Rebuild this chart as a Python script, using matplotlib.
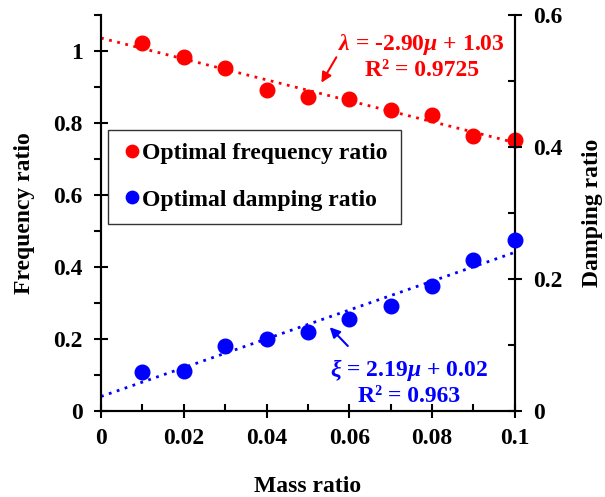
import numpy as np
import matplotlib
matplotlib.use("Agg")
import matplotlib.pyplot as plt
from matplotlib.ticker import MultipleLocator

#=================
#data
#=================
mass_ratio = [0.01, 0.02, 0.03, 0.04, 0.05, 0.06, 0.07, 0.08, 0.09, 0.10]
freq_ratio = [1.022, 0.982, 0.953, 0.892, 0.872, 0.867, 0.836, 0.822, 0.763, 0.752]
damp_ratio = [0.059, 0.060, 0.099, 0.109, 0.119, 0.139, 0.159, 0.189, 0.229, 0.259]

x_ticks = [0, 0.02, 0.04, 0.06, 0.08, 0.1]
x_ticklabels = ["0", "0.02", "0.04", "0.06", "0.08", "0.1"]
left_ticks = [0, 0.2, 0.4, 0.6, 0.8, 1.0]
left_ticklabels = ["0", "0.2", "0.4", "0.6", "0.8", "1"]
right_ticks = [0, 0.2, 0.4, 0.6]
right_ticklabels = ["0", "0.2", "0.4", "0.6"]

freq_label = "Optimal frequency ratio"
damp_label = "Optimal damping ratio"
freq_eq = "$\\lambda$ = -2.90$\\mu$ + 1.03\nR² = 0.9725"
damp_eq = "$\\xi$ = 2.19$\\mu$ + 0.02\nR² = 0.963"

#=================
#style
#=================
plt.rcParams["font.family"] = ["Liberation Serif", "DejaVu Serif"]
plt.rcParams["font.weight"] = "bold"
plt.rcParams["mathtext.fontset"] = "custom"
plt.rcParams["mathtext.rm"] = "Liberation Serif:bold"
plt.rcParams["mathtext.it"] = "Liberation Serif:italic:bold"
plt.rcParams["mathtext.bf"] = "Liberation Serif:bold"
fs = 17

fig = plt.figure(figsize=(6.05, 4.97), dpi=100)
ax = fig.add_axes([0.167, 0.173, 0.684, 0.797])
ax2 = ax.twinx()

#=================
#trend lines
#=================
x_fit = np.array([0.0, 0.1])
p_freq = np.polyfit(mass_ratio, freq_ratio, 1)
p_damp = np.polyfit(mass_ratio, damp_ratio, 1)

ax.plot(x_fit, np.polyval(p_freq, x_fit), color="red", linestyle=(0, (1, 2)), linewidth=2, zorder=2)
ax2.plot(x_fit, np.polyval(p_damp, x_fit), color="blue", linestyle=(0, (1, 2)), linewidth=2, zorder=2)

#=================
#points
#=================
ax.plot(mass_ratio, freq_ratio, "o", color="red", markersize=10.5, clip_on=False, zorder=3, label=freq_label)
ax2.plot(mass_ratio, damp_ratio, "o", color="blue", markersize=10.5, clip_on=False, zorder=3, label=damp_label)

#=================
#axes
#=================
ax.set_xlim(0, 0.1)
ax.set_ylim(0, 1.1)
ax2.set_ylim(0, 0.6)

ax.set_xticks(x_ticks)
ax.set_xticklabels(x_ticklabels)
ax.set_yticks(left_ticks)
ax.set_yticklabels(left_ticklabels)
ax2.set_yticks(right_ticks)
ax2.set_yticklabels(right_ticklabels)

ax.xaxis.set_minor_locator(MultipleLocator(0.01))
ax.yaxis.set_minor_locator(MultipleLocator(0.1))
ax2.yaxis.set_minor_locator(MultipleLocator(0.1))

ax.tick_params(axis="x", which="major", direction="inout", length=10, width=1.5, labelsize=fs, pad=7)
ax.tick_params(axis="x", which="minor", direction="in", length=5, width=1.5)
ax.tick_params(axis="y", which="major", direction="inout", length=10, width=1.5, labelsize=fs, pad=8)
ax.tick_params(axis="y", which="minor", direction="out", length=5, width=1.5)
ax2.tick_params(axis="y", which="major", direction="inout", length=10, width=1.5, labelsize=fs, pad=8)
ax2.tick_params(axis="y", which="minor", direction="in", length=5, width=1.5)
ax.tick_params(top=False, which="both")

for a in (ax, ax2):
    for side in ("left", "right", "bottom"):
        a.spines[side].set_linewidth(1.5)
    a.spines["top"].set_visible(False)

ax.set_xlabel("Mass ratio", fontsize=fs, fontweight="bold", labelpad=20)
ax.set_ylabel("Frequency ratio", fontsize=fs, fontweight="bold", labelpad=13)
ax2.set_ylabel("Damping ratio", fontsize=fs, fontweight="bold", labelpad=14)

#=================
#annotations
#=================
ax.text(0.0775, 0.985, freq_eq, color="red", fontsize=17, fontweight="bold",
        ha="center", va="center", linespacing=1.2)
ax.annotate("", xy=(0.0529, 0.905), xytext=(0.0572, 0.989),
            arrowprops=dict(arrowstyle="-|>", color="red", lw=1.5, mutation_scale=15))

ax2.text(0.0745, 0.0435, damp_eq, color="blue", fontsize=17, fontweight="bold",
         ha="center", va="center", linespacing=1.2)
ax2.annotate("", xy=(0.0548, 0.130), xytext=(0.0601, 0.0955),
             arrowprops=dict(arrowstyle="-|>", color="blue", lw=1.5, mutation_scale=15))

#=================
#legend
#=================
h1, l1 = ax.get_legend_handles_labels()
h2, l2 = ax2.get_legend_handles_labels()
leg = ax2.legend(h1 + h2, l1 + l2, loc="upper left", bbox_to_anchor=(0.017, 0.71),
                 borderaxespad=0, fontsize=fs, frameon=True, fancybox=False,
                 edgecolor="black", handletextpad=0.0, handlelength=0.9,
                 markerscale=0.85, borderpad=0.55, labelspacing=1.05)
leg.get_frame().set_linewidth(1.0)

fig.savefig("out.png", dpi=100)
